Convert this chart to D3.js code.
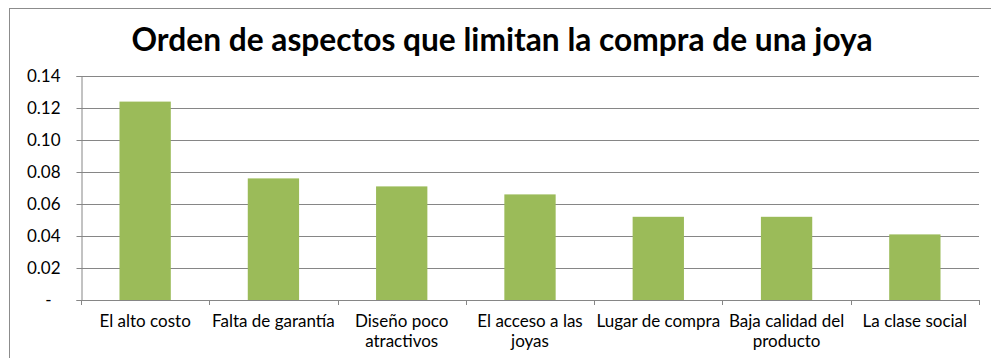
<!DOCTYPE html>
<html>
<head>
<meta charset="utf-8">
<script src="https://cdn.jsdelivr.net/npm/d3@7"></script>
<style>
  html, body { margin: 0; padding: 0; background: #fff; }
  svg { display: block; }
  text { font-family: Lato, "Open Sans", "Liberation Sans", sans-serif; fill: #000; }
</style>
</head>
<body>
<svg id="chart" width="991" height="358"></svg>
<script>
// Chart data
const title = "Orden de aspectos que limitan la compra de una joya";
const categories = [
  "El alto costo",
  "Falta de garantía",
  "Diseño poco atractivos",
  "El acceso a las joyas",
  "Lugar de compra",
  "Baja calidad del producto",
  "La clase social"
];
const values = [0.124, 0.076, 0.071, 0.066, 0.052, 0.052, 0.041];
const yTicks = [0, 0.02, 0.04, 0.06, 0.08, 0.10, 0.12, 0.14];

const W = 991, H = 358;
const margin = { top: 76, right: 12, bottom: 58, left: 81 };
const svg = d3.select("#chart");

// Outer chart frame (extends past the visible area on right and bottom)
svg.append("rect")
  .attr("x", 9.5).attr("y", 8.5)
  .attr("width", 1000).attr("height", 400)
  .attr("fill", "#fff")
  .attr("stroke", "#8c8c8c").attr("stroke-width", 1);

// Title
svg.append("text")
  .attr("x", 502).attr("y", 51)
  .attr("text-anchor", "middle")
  .attr("font-size", 31.7).attr("font-weight", "bold")
  .text(title);

const x = d3.scaleBand()
  .domain(categories)
  .range([margin.left, W - margin.right])
  .paddingInner(0.6).paddingOuter(0.3);

const y = d3.scaleLinear()
  .domain([0, 0.14])
  .range([H - margin.bottom, margin.top]);

const gridColor = "#868686";

// Horizontal gridlines
svg.append("g")
  .selectAll("line")
  .data(yTicks.filter(d => d > 0))
  .join("line")
  .attr("x1", margin.left).attr("x2", W - margin.right)
  .attr("y1", d => Math.round(y(d)) + 0.5).attr("y2", d => Math.round(y(d)) + 0.5)
  .attr("stroke", gridColor).attr("stroke-width", 1);

// Bars
svg.append("g")
  .selectAll("rect")
  .data(values)
  .join("rect")
  .attr("x", (d, i) => x(categories[i]))
  .attr("width", x.bandwidth())
  .attr("y", d => y(d))
  .attr("height", d => y(0) - y(d))
  .attr("fill", "#9bbb59");

// Y axis
const yAxis = d3.axisLeft(y)
  .tickValues(yTicks)
  .tickSize(5)
  .tickPadding(16)
  .tickFormat(d => d === 0 ? "-" : d3.format(".2f")(d));

const gy = svg.append("g")
  .attr("transform", `translate(${margin.left + 0.5},0)`)
  .call(yAxis);
gy.select(".domain").attr("stroke", gridColor);
gy.selectAll(".tick line").attr("stroke", gridColor);
gy.selectAll(".tick text")
  .attr("font-size", 17)
  .attr("font-family", "Lato, 'Open Sans', sans-serif")
  .attr("fill", "#000")
  .attr("dx", d => d === 0 ? -9 : 0);
gy.selectAll(".tick").attr("transform", d => `translate(0,${Math.round(y(d)) + 0.5})`);

// X axis: tick marks sit at category boundaries
const step = x.step();
const bounds = d3.range(categories.length + 1).map(i => margin.left + i * (W - margin.right - margin.left) / categories.length);
svg.append("line")
  .attr("x1", margin.left).attr("x2", W - margin.right)
  .attr("y1", Math.round(y(0)) + 0.5).attr("y2", Math.round(y(0)) + 0.5)
  .attr("stroke", gridColor);
svg.append("g")
  .selectAll("line")
  .data(bounds)
  .join("line")
  .attr("x1", d => Math.round(d) + 0.5).attr("x2", d => Math.round(d) + 0.5)
  .attr("y1", y(0)).attr("y2", y(0) + 5)
  .attr("stroke", gridColor);

// Category labels, wrapped to the category width
const labelG = svg.append("g");
categories.forEach((c, i) => {
  const cx = x(c) + x.bandwidth() / 2;
  const t = labelG.append("text")
    .attr("x", cx).attr("y", y(0) + 27)
    .attr("text-anchor", "middle")
    .attr("font-size", 17);
  const words = c.split(" ");
  let line = [];
  let tspan = t.append("tspan").attr("x", cx).attr("dy", 0);
  words.forEach(w => {
    line.push(w);
    tspan.text(line.join(" "));
    if (tspan.node().getComputedTextLength() > step + 2 && line.length > 1) {
      line.pop();
      tspan.text(line.join(" "));
      line = [w];
      tspan = t.append("tspan").attr("x", cx).attr("dy", 20).text(w);
    }
  });
});
</script>
</body>
</html>
